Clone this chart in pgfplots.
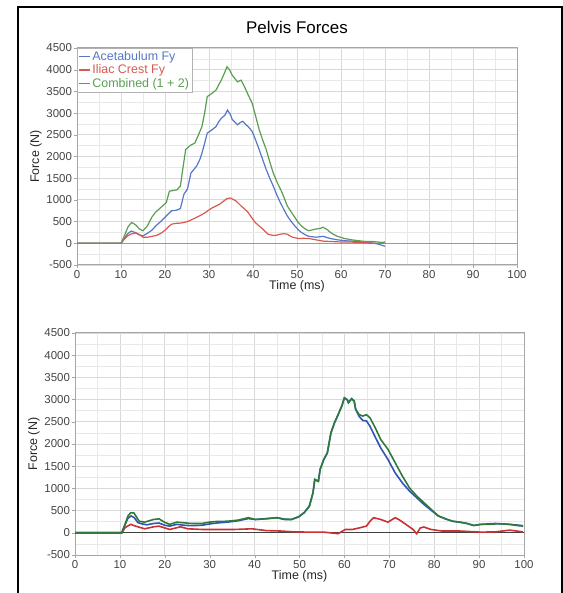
\documentclass[border=0pt]{standalone}
\usepackage{pgfplots}
\pgfplotsset{compat=1.18}
\usepackage{fontspec}
\setmainfont{Liberation Sans}
\definecolor{tb}{HTML}{5577C8}
\definecolor{tr}{HTML}{D55A50}
\definecolor{tg}{HTML}{5A9E52}
\definecolor{bb}{HTML}{2F55B5}
\definecolor{br}{HTML}{C83232}
\definecolor{bg}{HTML}{2F7A3A}
\definecolor{tick}{HTML}{444444}
\pgfplotsset{
  pelvis/.style={
    scale only axis,
    xmin=0, xmax=100, ymin=-500, ymax=4500,
    xtick={0,10,...,100}, ytick={-500,0,...,4500},
    minor x tick num=1, minor y tick num=1,
    grid=both,
    major grid style={draw=gray!30, line width=0.8bp},
    minor grid style={draw=gray!18, line width=0.6bp},
    axis line style={draw=gray!70, line width=1bp},
    tick align=outside, xtick pos=bottom, ytick pos=left,
    major tick length=3bp, minor tick length=0bp,
    tick style={draw=gray!70},
    /pgf/number format/assume math mode=true,
    /pgf/number format/1000 sep={},
    tick label style={font=\fontsize{11.5}{12}\selectfont, text=tick},
    xticklabel style={yshift=1bp},
    yticklabel style={xshift=1.5bp},
    label style={font=\fontsize{12.5}{13}\selectfont, text=black!85},
    xlabel={Time (ms)}, ylabel={Force (N)},
    xlabel style={yshift=5bp},
    ylabel style={yshift=-2bp},
  }
}
\begin{document}
\begin{tikzpicture}
\useasboundingbox (0bp,0bp) rectangle (563bp,593bp);
\draw[line width=1.8bp] (18bp,0bp) -- (18bp,586bp) -- (562bp,586bp) -- (562bp,0bp);

\begin{axis}[pelvis,
  at={(77bp,328bp)}, anchor=south west, width=440bp, height=217bp,
  title={Pelvis Forces},
  title style={font=\fontsize{17}{18}\selectfont, at={(0.5,1)}, anchor=south, yshift=5bp},
  legend style={at={(0,1)}, anchor=north west, draw=gray!60, fill=white,
    font=\fontsize{12.5}{13}\selectfont, inner sep=1bp, row sep=-1bp,
    legend cell align=left},
  legend image code/.code={\draw[#1] (0bp,0bp) -- (11bp,0bp);},
]
\addplot[forget plot, draw=gray!80, line width=1bp] coordinates {(0,0) (100,0)};
\addplot[tb, line width=1.2bp] coordinates {
(0,0) (10,0) (10.8,120) (11.5,220) (12.3,280) (13.2,250) (14,200) (15,170) (16,230) (17,300) (18,410) (19,500)
(20.3,630) (21.5,750) (22.5,760) (23.5,800) (24.3,1130) (25.1,1250) (25.9,1620) (27.2,1780) (28,1950) (28.4,2080)
(29,2300) (29.6,2540) (30.5,2600) (31.6,2690) (32.2,2800) (32.8,2880) (33.6,2950) (34.2,3070) (34.8,2980) (35.3,2850)
(36,2780) (36.5,2730) (37.2,2790) (37.7,2810) (38.3,2740) (38.9,2690) (39.8,2580) (40.6,2380) (41.4,2160) (42.2,1930)
(43,1700) (43.8,1500) (44.6,1320) (45.4,1120) (46.2,940) (47,780) (47.8,630) (48.7,500) (49.5,400) (50.3,310)
(51,250) (52,190) (52.7,160) (54.3,140) (55.9,160) (57.6,110) (59.2,80) (60.8,60) (62.5,50) (64,40) (65.5,20)
(67,10) (68.5,-20) (70,-70)};
\addlegendentry{\textcolor{tb}{Acetabulum Fy}}
\addplot[tr, line width=1.2bp] coordinates {
(0,0) (10,0) (10.8,100) (11.5,170) (12.2,210) (13.4,240) (14.2,200) (15,140) (16,140) (17,160) (18,180) (18.7,210)
(19.5,260) (20.3,330) (21,400) (21.5,440) (22.5,460) (23.5,465) (24.3,480) (25.1,500) (26.2,550) (27.2,600) (28.2,650)
(29.2,710) (30,770) (30.8,820) (31.6,860) (32.4,900) (33.3,970) (34.1,1030) (34.9,1045) (35.5,1010) (36.1,980)
(36.7,920) (37.3,860) (38.1,790) (38.9,710) (39.7,590) (40.5,480) (41.4,400) (42.2,330) (42.8,270) (43.4,210)
(44.6,180) (45.5,190) (46.2,210) (47,220) (47.8,210) (48.4,170) (49,140) (50.3,110) (51.5,115) (52.7,110) (54.3,80)
(55.9,50) (58,40) (60,30) (62,30) (64,20) (66,10) (68,0) (70,10)};
\addlegendentry{\textcolor{tr}{Iliac Crest Fy}}
\addplot[tg, line width=1.2bp] coordinates {
(0,0) (10,0) (10.8,180) (11.6,380) (12.4,480) (13.3,430) (14.2,330) (15,290) (16,400) (17,600) (17.8,710) (19,820)
(20.3,940) (21,1200) (22,1220) (22.7,1230) (23.5,1320) (24.1,1750) (24.7,2160) (25.8,2260) (26.8,2310) (27.6,2500)
(28.4,2690) (29,3000) (29.6,3380) (30.6,3450) (31.6,3530) (32.2,3650) (32.8,3760) (33.5,3920) (34.1,4070) (34.7,3990)
(35.3,3870) (36,3780) (36.5,3720) (37.3,3760) (38.1,3600) (38.9,3420) (39.8,3230) (40.6,2930) (41.4,2620) (42.2,2380)
(43,2160) (43.8,1880) (44.6,1620) (45.6,1380) (46.6,1170) (47.8,860) (48.7,720) (49.5,600) (50.2,490) (51,400)
(52,320) (52.7,290) (54.3,330) (55.2,340) (55.9,370) (56.8,320) (57.6,250) (58.4,200) (59.2,160) (60.8,110)
(62.4,80) (64,60) (65.7,40) (67.3,40) (69.3,20) (70,30)};
\addlegendentry{\textcolor{tg}{Combined (1 + 2)}}
\end{axis}

\begin{axis}[pelvis,
  at={(75bp,38bp)}, anchor=south west, width=449bp, height=222bp,
]
\addplot[draw=black!75, line width=1.2bp] coordinates {(0,0) (100,0)};
\addplot[br, line width=1.6bp] coordinates {
(0,0) (10.4,0) (11.2,120) (12.4,190) (13.5,150) (15.5,90) (17.5,135) (18.7,150) (21.1,75) (23.5,135) (25.1,90)
(28.3,75) (31.5,75) (35.5,75) (39.4,90) (42.6,50) (45.8,40) (49,20) (52.2,15) (55.4,15) (58.6,-20) (60.2,75)
(61.8,75) (63.3,110) (64.9,150) (65.7,260) (66.5,340) (68.1,300) (69.7,240) (71.3,340) (72.1,300) (73.7,190)
(75.3,75) (76.1,-20) (76.9,110) (77.7,130) (79.3,75) (81.7,40) (85.7,40) (90.4,15) (93.6,20) (96.8,60) (99.8,20)};
\addplot[bb, line width=1.6bp] coordinates {
(0,0) (10.4,0) (11,150) (11.8,330) (12.5,380) (13.2,340) (14,230) (15,200) (16,180) (17.5,210) (18.7,220) (20,170)
(21.1,150) (22.7,190) (24.3,170) (25.9,160) (28.3,170) (30,200) (31.5,220) (33.9,240) (36.3,270) (38.6,320)
(40.2,300) (42.6,320) (45,340) (46.6,310) (48.2,300) (49.8,360) (51,450) (52.2,600) (53,900) (53.4,1200) (54.2,1160)
(54.6,1430) (55.4,1650) (56.2,1800) (57,2250) (57.8,2480) (58.6,2660) (59.4,2850) (60,3040) (60.6,3000) (60.9,2930)
(61.6,3020) (62.2,2960) (62.5,2780) (63.3,2620) (64.1,2530) (64.9,2520) (65.7,2400) (66.9,2150) (68.1,1910)
(69.7,1650) (71.3,1350) (72.9,1125) (74.5,940) (76.1,790) (77.7,640) (79.3,510) (80.9,380) (82.5,315) (84.1,260)
(85.7,240) (87.3,210) (88.8,165) (90.4,190) (92,200) (93.6,210) (95.2,200) (96.8,190) (98.4,175) (99.8,160)};
\addplot[bg, line width=1.6bp] coordinates {
(0,0) (10.4,0) (11,150) (11.8,380) (12.4,450) (13.1,450) (14.3,260) (15.5,240) (17.5,300) (18.7,315) (19.9,240)
(21.1,190) (22.7,240) (24.3,225) (25.9,210) (28.3,210) (29.9,240) (31.5,255) (33.9,260) (36.3,285) (38.6,340)
(40.2,300) (42.6,315) (45,340) (46.6,300) (48.2,300) (49.8,360) (51,450) (52.2,600) (53,900) (53.4,1200) (54.2,1160)
(54.6,1430) (55.4,1650) (56.2,1800) (57,2250) (57.8,2480) (58.6,2660) (59.4,2850) (60,3040) (60.6,3000) (60.9,2930)
(61.6,3020) (62.2,2960) (62.5,2780) (63.3,2660) (64.1,2630) (64.9,2660) (65.7,2590) (66.9,2360) (68.1,2100)
(69.7,1880) (71.3,1580) (72.9,1280) (74.5,1010) (76.1,830) (77.7,680) (79.3,530) (80.9,380) (82.5,315) (84.1,260)
(85.7,240) (87.3,210) (88.8,165) (90.4,190) (92,190) (93.6,200) (95.2,200) (96.8,190) (98.4,165) (99.8,150)};
\end{axis}
\end{tikzpicture}
\end{document}
